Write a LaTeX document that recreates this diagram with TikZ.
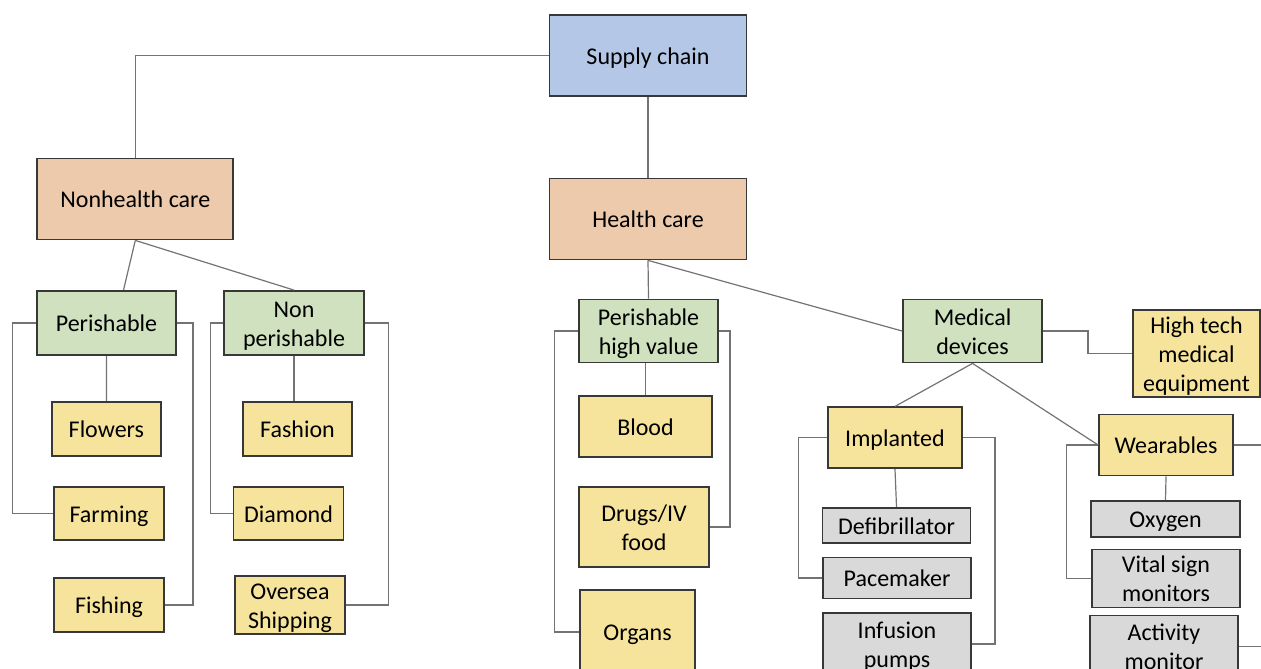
\documentclass[tikz,border=0pt]{standalone}
\usepackage{fontspec}
\setmainfont{Carlito}
\usepackage{tikz}
\usepackage{xcolor}

\definecolor{chainblue}{HTML}{B4C7E7}
\definecolor{carepeach}{HTML}{EDCAAC}
\definecolor{groupgreen}{HTML}{CFE1BE}
\definecolor{itemyellow}{HTML}{F7E49C}
\definecolor{leafgray}{HTML}{D9D9D9}

% box text: rows on the baseline grid, set a little low like the original
\newcommand{\boxlines}[1]{\raisebox{-1.5pt}[\height][\depth]{\begin{tabular}{@{}c@{}}#1\end{tabular}}}

\tikzset{
  box/.style={draw=black!78,line width=0.9pt,inner sep=0pt},
  boxsize/.style 2 args={minimum width=#1*0.5pt,minimum height=#2*0.5pt},
  link/.style={draw=black!55,line width=0.6pt}
}

\begin{document}
\begin{tikzpicture}[x=0.5pt,y=-0.5pt,font=\fontsize{12}{14.5}\selectfont]
\useasboundingbox (0,0) rectangle (1261,668);
\clip (0,0) rectangle (1261,668);
% top levels
\node[box,fill=chainblue,boxsize={197}{81}] (supply) at (648,55.7) {\boxlines{Supply chain}};
\node[box,fill=carepeach,boxsize={196}{81}] (nonhealth) at (135.3,199) {\boxlines{Nonhealth care}};
\node[box,fill=carepeach,boxsize={197}{81}] (health) at (648,219) {\boxlines{Health care}};
% nonhealth care branch
\node[box,fill=groupgreen,boxsize={139}{64}] (perish) at (106.5,323) {\boxlines{Perishable}};
\node[box,fill=groupgreen,boxsize={140}{64}] (nonper) at (294,323) {\boxlines{Non\\perishable}};
\node[box,fill=itemyellow,boxsize={109}{54}] (flowers) at (106.4,428.7) {\boxlines{Flowers}};
\node[box,fill=itemyellow,boxsize={110}{53}] (farming) at (109,513.3) {\boxlines{Farming}};
\node[box,fill=itemyellow,boxsize={110}{54}] (fishing) at (109,605) {\boxlines{Fishing}};
\node[box,fill=itemyellow,boxsize={109}{54}] (fashion) at (297.5,429) {\boxlines{Fashion}};
\node[box,fill=itemyellow,boxsize={110}{53}] (diamond) at (288.5,513.5) {\boxlines{Diamond}};
\node[box,fill=itemyellow,boxsize={110}{54}] (oversea) at (290,605) {\boxlines{Oversea\\Shipping}};
% health care branch
\node[box,fill=groupgreen,boxsize={139}{63}] (phv) at (648.5,331) {\boxlines{Perishable\\high value}};
\node[box,fill=itemyellow,boxsize={133}{61}] (blood) at (645.5,426.5) {\boxlines{Blood}};
\node[box,fill=itemyellow,boxsize={130}{80}] (drugs) at (644,527) {\boxlines{Drugs/IV\\food}};
\node[box,fill=itemyellow,boxsize={115}{84}] (organs) at (637.5,632) {\boxlines{Organs}};
\node[box,fill=groupgreen,boxsize={139}{63}] (medical) at (972.5,331) {\boxlines{Medical\\devices}};
\node[box,fill=itemyellow,boxsize={127}{86}] (hitech) at (1196.5,353.3) {\boxlines{High tech\\medical\\equipment}};
\node[box,fill=itemyellow,boxsize={134}{61}] (implanted) at (895,437.8) {\boxlines{Implanted}};
\node[box,fill=leafgray,boxsize={148}{35}] (defib) at (896.5,525.2) {\boxlines{Defibrillator}};
\node[box,fill=leafgray,boxsize={148}{41}] (pacemaker) at (897,578) {\boxlines{Pacemaker}};
\node[box,fill=leafgray,boxsize={148}{62}] (infusion) at (897,644) {\boxlines{Infusion\\pumps}};
\node[box,fill=itemyellow,boxsize={134}{61}] (wearables) at (1166,445) {\boxlines{Wearables}};
\node[box,fill=leafgray,boxsize={149}{36}] (oxygen) at (1165.5,519) {\boxlines{Oxygen}};
\node[box,fill=leafgray,boxsize={148}{52}] (vital) at (1166,578.5) {\boxlines{Vital sign\\monitors}};
\node[box,fill=leafgray,boxsize={148}{62}] (activity) at (1164,646.5) {\boxlines{Activity\\monitor}};
% connectors
\draw[link] (supply.west) -| (nonhealth.north);
\draw[link] (supply.south) -- (health.north);
\draw[link] (nonhealth.south) -- ([xshift=8.5pt]perish.north);
\draw[link] (nonhealth.south) -- (nonper.north);
\draw[link] (perish.south) -- (flowers.north);
\draw[link] (perish.west) -- ++(-24,0) |- (farming.west);
\draw[link] (perish.east) -- ++(16,0) |- (fishing.east);
\draw[link] (nonper.south) -- (nonper.south |- fashion.north);
\draw[link] (nonper.west) -- ++(-12.5,0) |- (diamond.west);
\draw[link] (nonper.east) -- ++(23.5,0) |- (oversea.east);
\draw[link] (health.south) -- (phv.north);
\draw[link] (health.south) -- (medical.west);
\draw[link] (blood.north |- phv.south) -- (blood.north);
\draw[link] (phv.west) -- ++(-23.3,0) |- (organs.west);
\draw[link] (phv.east) -- ++(11,0) |- (drugs.east);
\draw[link] (medical.east) -- ++(45,0) |- (hitech.west);
\draw[link] (medical.south) -- (implanted.north);
\draw[link] (medical.south) -- (wearables.west);
\draw[link] (implanted.south) -- (defib.north);
\draw[link] (implanted.west) -- ++(-29,0) |- (pacemaker.west);
\draw[link] (implanted.east) -- ++(32,0) |- (infusion.east);
\draw[link] (wearables.south) -- (oxygen.north);
\draw[link] (wearables.west) -- ++(-31.5,0) |- (vital.west);
\draw[link] (wearables.east) -- ++(40,0) |- (activity.east);
\end{tikzpicture}
\end{document}
